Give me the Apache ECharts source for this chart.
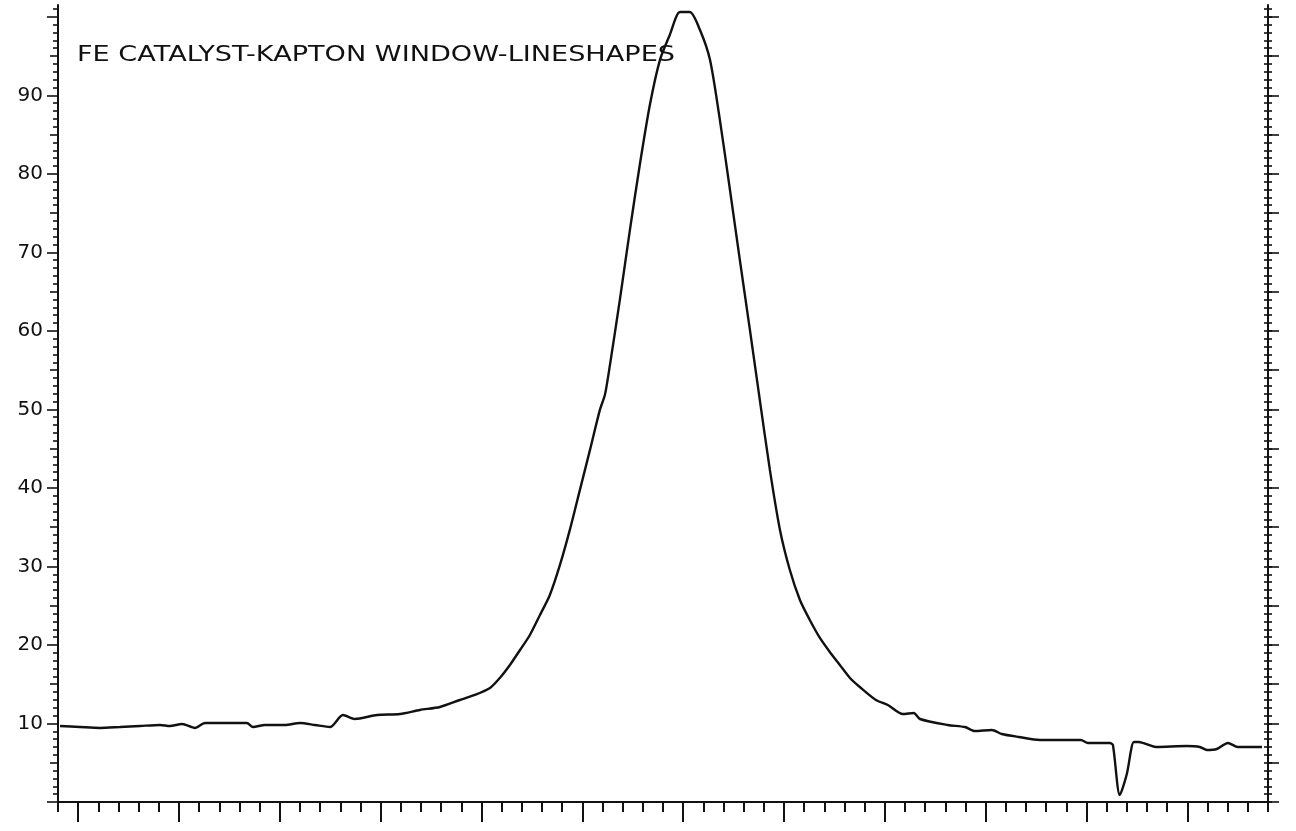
<!DOCTYPE html>
<html>
<head>
<meta charset="utf-8">
<title>FE CATALYST-KAPTON WINDOW-LINESHAPES</title>
<script src="https://cdn.jsdelivr.net/npm/echarts@6/dist/echarts.min.js"></script>
<style>
  html, body { margin: 0; padding: 0; background: #fff; }
  #chart { width: 1296px; height: 831px; }
</style>
</head>
<body>
<div id="chart"></div>
<script>
// Plot title
const TITLE = 'FE CATALYST-KAPTON WINDOW-LINESHAPES';

// Spectrum trace: channel position and intensity
const channel = [
  -0.90, 0.09, 1.08, 2.07, 3.07, 4.06, 4.55, 5.15, 5.79, 6.29,
  7.28, 8.37, 8.67, 9.26, 10.25, 11.00, 11.74, 12.49, 13.13, 13.72,
  14.82, 15.96, 16.95, 17.94, 18.93, 19.67, 20.42, 20.91, 21.41, 21.91,
  22.40, 22.90, 23.39, 23.89, 24.38, 24.88, 25.38, 25.87, 26.12, 26.37,
  26.86, 27.36, 27.85, 28.35, 28.85, 29.34, 29.84, 30.33, 30.83, 31.33,
  31.82, 32.32, 32.81, 33.31, 33.80, 34.30, 34.80, 35.29, 35.79, 36.28,
  36.78, 37.27, 37.77, 38.27, 38.76, 39.56, 40.15, 40.89, 41.44, 41.74,
  43.12, 43.97, 44.46, 45.31, 45.80, 46.64, 47.69, 49.72, 50.07, 51.16,
  51.31, 51.65, 52.00, 52.35, 52.59, 53.44, 54.97, 55.62, 55.97, 56.46,
  57.01, 57.50, 58.70
];
const intensity = [
  9.68, 9.55, 9.43, 9.55, 9.68, 9.81, 9.68, 9.94, 9.43, 10.06,
  10.06, 10.06, 9.55, 9.81, 9.81, 10.06, 9.81, 9.55, 11.08, 10.57,
  11.08, 11.21, 11.72, 12.10, 12.99, 13.63, 14.52, 15.80, 17.45, 19.36,
  21.27, 23.82, 26.37, 30.19, 34.65, 39.75, 44.84, 49.94, 51.85, 55.67,
  63.95, 72.87, 81.15, 88.79, 94.52, 97.71, 100.6, 100.6, 98.34, 94.52,
  86.88, 77.96, 69.04, 60.13, 51.21, 42.29, 34.65, 29.55, 25.73, 23.18,
  20.89, 19.11, 17.45, 15.80, 14.65, 12.99, 12.36, 11.21, 11.34, 10.57,
  9.81, 9.55, 9.04, 9.17, 8.66, 8.28, 7.90, 7.90, 7.52, 7.52,
  7.26, 0.89, 3.57, 7.64, 7.64, 7.01, 7.13, 7.01, 6.62, 6.75,
  7.52, 7.01, 7.01
];

// Axis ranges and tick positions
const xRange = [-1, 59];
const yRange = [0, 101.5];
const xMajorTicks = [0, 5, 10, 15, 20, 25, 30, 35, 40, 45, 50, 55];
const yLabelTicks = [10, 20, 30, 40, 50, 60, 70, 80, 90];
const yMajorTicks = [0, 10, 20, 30, 40, 50, 60, 70, 80, 90, 100];
const yMidTicks = [5, 15, 25, 35, 45, 55, 65, 75, 85, 95];
const yRightMajorTicks = [0, 5, 10, 15, 20, 25, 30, 35, 40, 45, 50, 55, 60, 65, 70, 75, 80, 85, 90, 95, 100];

function unitsBetween(lo, hi, skip) {
  const out = [];
  for (let v = lo; v <= hi; v++) if (skip.indexOf(v) < 0) out.push(v);
  return out;
}
const xMinorTicks = unitsBetween(-1, 59, xMajorTicks);
const yMinorTicks = unitsBetween(0, 101, yMajorTicks.concat(yMidTicks));
const yUnitTicks = unitsBetween(0, 101, []);

const INK = '#111';
const points = channel.map((c, i) => [c, intensity[i]]);

// Title width is stretched to the plotter lettering width
const titleFont = '22px "DejaVu Sans"';
const mctx = document.createElement('canvas').getContext('2d');
mctx.font = titleFont;
const titleScale = 598 / mctx.measureText(TITLE).width;

function xAx(ticks, len, showLine) {
  return {
    type: 'value', min: xRange[0], max: xRange[1], position: 'bottom',
    axisLine: { show: showLine, onZero: false, lineStyle: { color: INK, width: 2 } },
    axisTick: { show: true, customValues: ticks, length: len, lineStyle: { color: INK, width: 2 } },
    axisLabel: { show: false }, splitLine: { show: false }
  };
}
function yAx(pos, ticks, len, inside, showLine, labels) {
  return {
    type: 'value', min: yRange[0], max: yRange[1], position: pos,
    axisLine: { show: showLine, onZero: false, lineStyle: { color: INK, width: 2 } },
    axisTick: { show: true, customValues: ticks, length: len, inside: inside, lineStyle: { color: INK, width: 1.6 } },
    axisLabel: labels ? {
      show: true, customValues: labels, margin: 15,
      color: INK, fontSize: 20, fontFamily: 'DejaVu Sans'
    } : { show: false },
    splitLine: { show: false }
  };
}

const chart = echarts.init(document.getElementById('chart'), null, { renderer: 'canvas' });
chart.setOption({
  backgroundColor: '#fff',
  animation: false,
  grid: { left: 58, right: 28, top: 5, bottom: 29, containLabel: false },
  xAxis: [
    xAx(xMajorTicks, 20, true),
    xAx(xMinorTicks, 10, false)
  ],
  yAxis: [
    yAx('left', yMajorTicks, 11, false, true, yLabelTicks),
    yAx('left', yMidTicks, 8, false, false, null),
    yAx('left', yMinorTicks, 5, false, false, null),
    yAx('right', yRightMajorTicks, 11, false, true, null),
    yAx('right', yUnitTicks, 4, true, false, null),
    yAx('right', yUnitTicks, 4, false, false, null)
  ],
  graphic: [{
    type: 'text', x: 77, y: 55, scaleX: titleScale,
    style: { text: TITLE, font: titleFont, fill: INK, verticalAlign: 'middle', align: 'left' }
  }],
  series: [{
    type: 'line', xAxisIndex: 0, yAxisIndex: 0,
    data: points, symbol: 'none', smooth: 0.25,
    lineStyle: { color: INK, width: 2.4 }
  }]
});
</script>
</body>
</html>
